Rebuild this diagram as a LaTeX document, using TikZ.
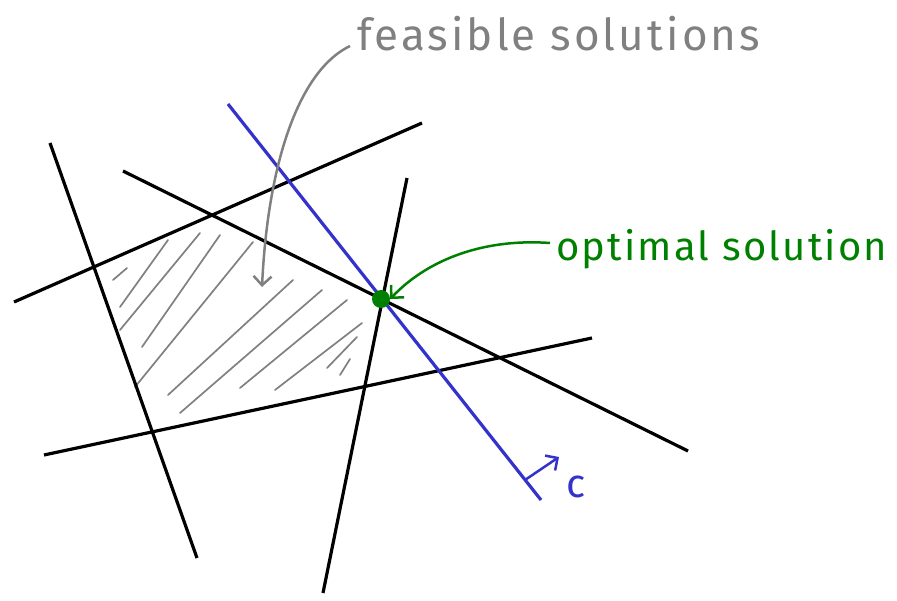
\documentclass[tikz,border=0pt]{standalone}
\usepackage{fontspec}
\setmainfont{Fira Sans}
\usetikzlibrary{arrows.meta}
\definecolor{lpblue}{RGB}{51,51,204}
\definecolor{lpgreen}{RGB}{0,128,0}
\definecolor{lpgray}{RGB}{128,128,128}
\tikzset{
  bound/.style={line width=3.2pt,black},
  objline/.style={line width=3.2pt,lpblue},
  hatchstroke/.style={line width=1.7pt,lpgray,line cap=round},
  barb/.style={-{Straight Barb[length=9pt,width=18pt,line width=2.5pt]}},
  label/.style={anchor=base west,inner sep=0pt}
}
\begin{document}
\begin{tikzpicture}[x=1pt,y=-1pt]
\useasboundingbox (0,0) rectangle (897,601);
% hatch strokes
\foreach \a/\b in {{(113,280)}/{(127,268)},{(120,307)}/{(168,240)},{(120,330)}/{(200,233)},{(142,347)}/{(220,235)},{(135,387)}/{(253,242)},{(168,395)}/{(293,280)},{(180,413)}/{(322,290)},{(240,388)}/{(347,300)},{(275,390)}/{(362,323)},{(327,368)}/{(357,337)},{(340,375)}/{(350,359)}}
  \draw[hatchstroke] \a -- \b;
% constraint lines
\coordinate (a1) at (50,143);  \coordinate (a2) at (197,558);
\coordinate (b1) at (14,302);  \coordinate (b2) at (422,123);
\coordinate (c1) at (123,171); \coordinate (c2) at (688,451);
\coordinate (d1) at (407,178); \coordinate (d2) at (323,593);
\coordinate (e1) at (44,455);  \coordinate (e2) at (592,338);
\draw[bound] (a1) -- (a2);
\draw[bound] (b1) -- (b2);
\draw[bound] (c1) -- (c2);
\draw[bound] (d1) -- (d2);
\draw[bound] (e1) -- (e2);
% objective line
\coordinate (o1) at (228,104); \coordinate (o2) at (541,500);
\draw[objline] (o1) -- (o2);
\coordinate (cs) at (525,480); \coordinate (ce) at (559,457);
\draw[objline,line width=2.5pt,barb] (cs) -- (ce);
\node[label,text=lpblue,font=\fontsize{40}{40}\selectfont] (clab) at (566,497) {c};
% optimal point
\node[circle,fill=lpgreen,minimum size=18pt,inner sep=0pt] (opt) at (381,299) {};
% labels
\node[label,text=lpgray,font=\fontsize{44}{44}\selectfont\addfontfeature{LetterSpace=7}] (feas) at (357,51) {feasible solutions};
\node[label,text=lpgreen,font=\fontsize{40}{40}\selectfont\addfontfeature{LetterSpace=5.5}] (optlab) at (556,261) {optimal solution};
\coordinate (fs) at (350,46);
\coordinate (fe) at (262,287);
\draw[lpgray,line width=2.5pt,barb] (fs) .. controls (300,70) and (268,160) .. (fe);
\coordinate (gs) at (550,243);
\draw[lpgreen,line width=2.5pt,barb] (gs) .. controls (480,238) and (425,262) .. (opt.east);
\end{tikzpicture}
\end{document}
